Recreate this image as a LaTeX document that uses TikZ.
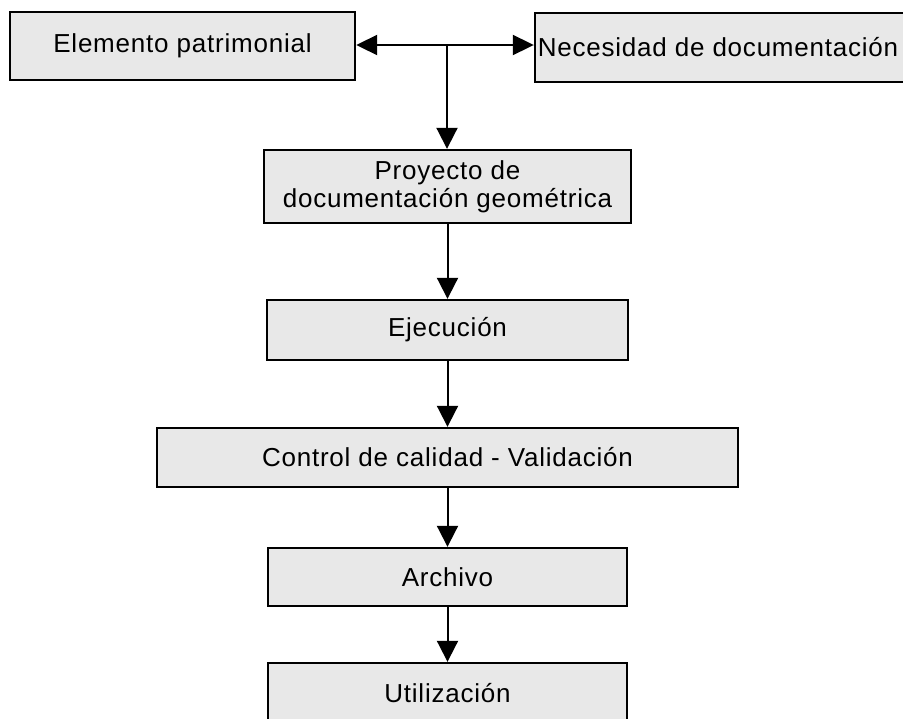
\documentclass[tikz,border=0pt]{standalone}
\usepackage{fontspec}
\setmainfont{Liberation Sans}[LetterSpace=3]
\usetikzlibrary{arrows.meta}
\begin{document}
\begin{tikzpicture}[x=0.5pt,y=-0.5pt,
  box/.style={draw=black, line width=1.2pt, fill=black!9, font=\fontsize{13}{14}\selectfont, inner sep=0pt, align=center},
  conn/.style={line width=1pt, -{Triangle[length=10.5pt,width=10.5pt]}},
  biconn/.style={line width=1pt, {Triangle[length=10.5pt,width=10pt]}-{Triangle[length=10.5pt,width=10pt]}}
]
\useasboundingbox (0,0) rectangle (903,718);
\node[box, minimum width=172.5pt, minimum height=34pt] (b1) at (182.5,46) {Elemento patrimonial};
\node[box, minimum width=187.5pt, minimum height=34.5pt] (b2) at (722.5,47.5) {\hspace*{-4.5pt}Necesidad de documentación};
\node[box, minimum width=183.5pt, minimum height=36.5pt] (p) at (447.5,186.5) {Proyecto de\\documentación geométrica};
\node[box, minimum width=180.5pt, minimum height=30pt] (e) at (447.5,330) {Ejecución};
\node[box, minimum width=290.5pt, minimum height=29.5pt] (c) at (447.5,457.5) {Control de calidad - Validación};
\node[box, minimum width=179.5pt, minimum height=29pt] (a) at (447.5,577) {Archivo};
\node[box, minimum width=179.5pt, minimum height=30pt] (u) at (447.5,693) {Utilización};
\coordinate (hub) at (447,45);
\draw[biconn] (b1.east |- hub) -- (b2.west |- hub);
\draw[conn] (hub) -- (hub |- p.north);
\draw[conn] (p.south) -- (e.north);
\draw[conn] (e.south) -- (c.north);
\draw[conn] (c.south) -- (a.north);
\draw[conn] (a.south) -- (u.north);
\end{tikzpicture}
\end{document}
